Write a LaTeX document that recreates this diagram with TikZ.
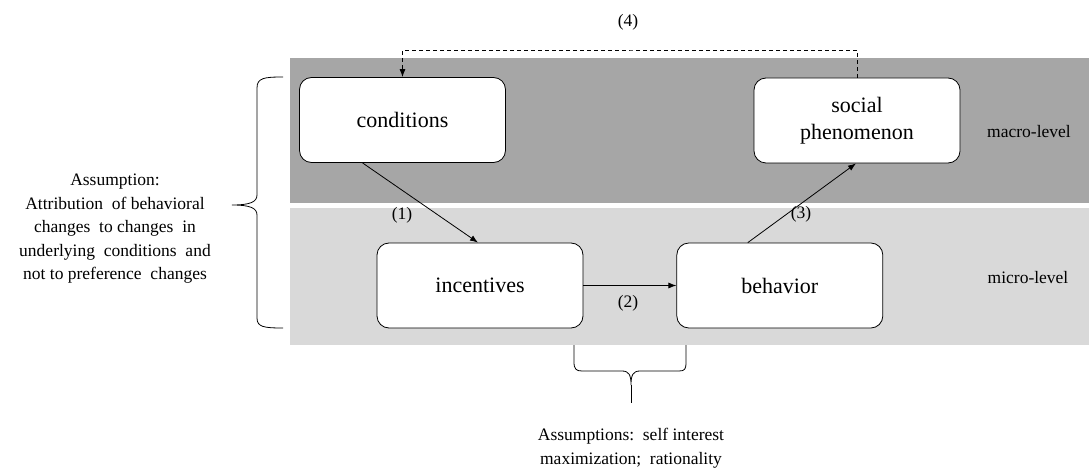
\documentclass[tikz,border=0pt]{standalone}
\usepackage{fontspec}
\setmainfont{Liberation Serif}
\usetikzlibrary{arrows.meta,positioning}
\definecolor{macrogray}{RGB}{166,166,166}
\definecolor{microgray}{RGB}{217,217,217}

\begin{document}
\begin{tikzpicture}[x=1pt,y=-1pt,>={Latex[length=8pt,width=6pt]},
    box/.style={draw,fill=white,rounded corners=12pt,line width=0.8pt,minimum width=206pt,minimum height=85pt,align=center,font=\fontsize{22}{27}\selectfont},
    lbl/.style={font=\fontsize{17.5}{23.5}\selectfont,align=center}]
        \useasboundingbox (0,0) rectangle (1089,473);
        % levels
        \fill[macrogray] (290,58) rectangle (1089,203);
        \fill[microgray] (290,208) rectangle (1089,345);
        \node[lbl] (macro) at (1029,132) {macro-level};
        \node[lbl] (micro) at (1028,278) {micro-level};
        % boxes
        \node[box] (cond) at (402.5,120) {conditions};
        \node[box] (soc) at (857,120.5) {social\\phenomenon};
        \node[box] (inc) at (480,285.5) {incentives};
        \node[box,right=93pt of inc] (beh) {behavior};
        % links
        \draw[->,line width=0.8pt] ([xshift=-40pt]cond.south) -- ([xshift=-2pt]inc.north);
        \node[lbl] (l1) at (402,215) {(1)};
        \draw[->,line width=0.8pt] (inc.east) -- (beh.west);
        \node[lbl] (l2) at (628,303) {(2)};
        \draw[->,line width=0.8pt] ([xshift=-32pt]beh.north) -- ([xshift=-1pt]soc.south);
        \node[lbl] (l3) at (801,214) {(3)};
        \coordinate (back) at (630,50);
        \draw[->,line width=0.8pt,dash pattern=on 4pt off 3pt] (soc.north) |- (back) -| (cond.north);
        \node[lbl] (l4) at (628,22) {(4)};
        % assumptions
        \draw[line width=0.8pt] (283,77) .. controls (264,77) and (257,78) .. (257,88) -- (257,195)
          .. controls (257,202) and (250,205) .. (232,205) .. controls (250,205) and (257,208) .. (257,215)
          -- (257,318) .. controls (257,327) and (264,328) .. (283,328);
        \node[lbl] (asm) at (115,229) {Assumption:\\Attribution\ \ of behavioral\\changes\ \ to changes\ \ in\\underlying\ \ conditions\ \ and\\not to preference\ \ changes};
        \draw[line width=0.8pt] (574,345) -- (574,362) .. controls (574,369) and (576,371) .. (582,371) -- (622,371)
          .. controls (629,371) and (631,375) .. (631,385) .. controls (631,375) and (633,371) .. (640,371)
          -- (679,371) .. controls (685,371) and (686,369) .. (686,362) -- (686,345);
        \draw[line width=0.8pt] (631,385) -- (631,403);
        \node[lbl] (asms) at (631,448) {Assumptions:\ \ self interest\\maximization;\ \ rationality};
      \end{tikzpicture}
\end{document}
